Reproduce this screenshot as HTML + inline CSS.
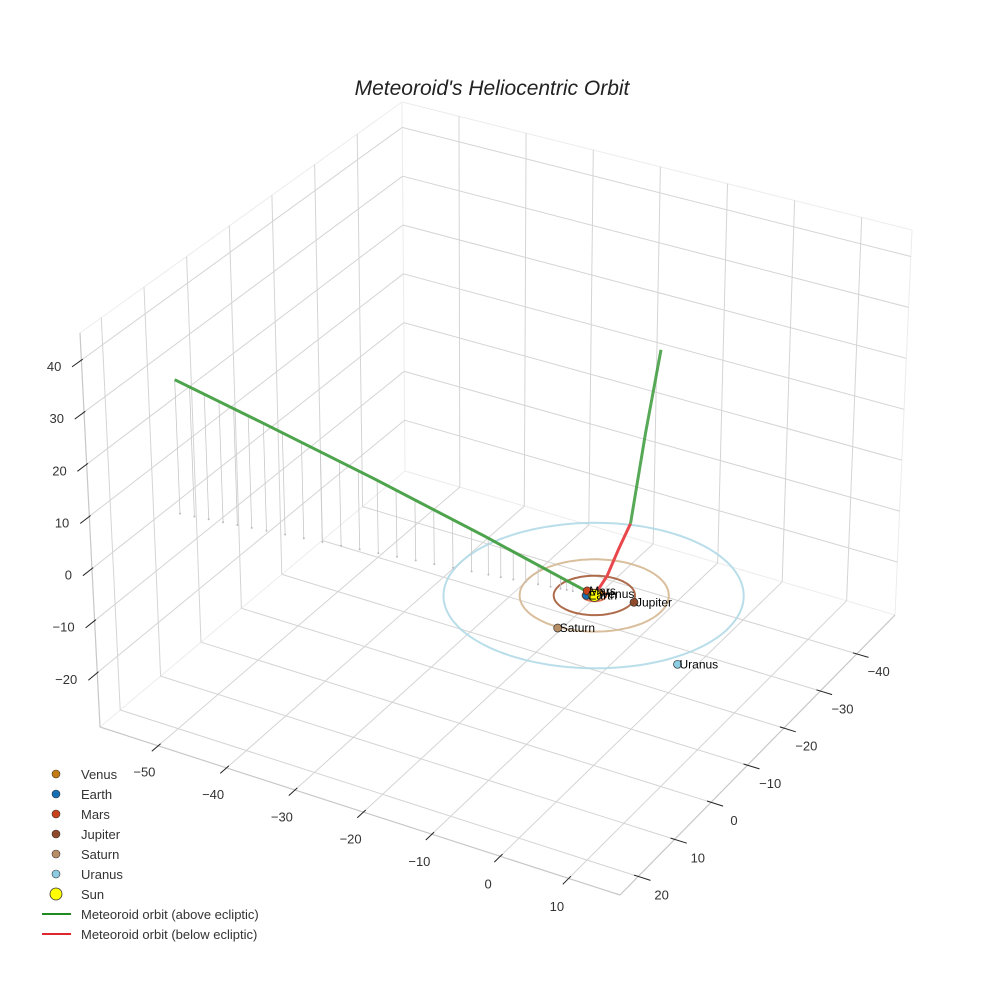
<!DOCTYPE html>
<html><head><meta charset="utf-8">
<style>
html,body{margin:0;padding:0;background:#fff;}
svg{display:block;font-family:"Liberation Sans",sans-serif;}
</style></head>
<body>
<svg id="chart" width="984" height="984" viewBox="0 0 984 984" xmlns="http://www.w3.org/2000/svg">
<rect x="0" y="0" width="984" height="984" fill="#fff"/>
<text x="492" y="95" text-anchor="middle" font-size="21" font-style="italic" fill="#222">Meteoroid's Heliocentric Orbit</text>
<g id="grid"></g>
<g id="ticks"></g>
<g id="marks"></g>
<g id="legend">
  <circle cx="56" cy="774" r="4" fill="#c47a14" stroke="#333" stroke-width="0.6"/>
  <text x="81" y="779" font-size="13" fill="#333">Venus</text>
  <circle cx="56" cy="794" r="4" fill="#1570b3" stroke="#333" stroke-width="0.6"/>
  <text x="81" y="799" font-size="13" fill="#333">Earth</text>
  <circle cx="56" cy="814" r="4" fill="#c8431c" stroke="#333" stroke-width="0.6"/>
  <text x="81" y="819" font-size="13" fill="#333">Mars</text>
  <circle cx="56" cy="834" r="4" fill="#8e4a2a" stroke="#333" stroke-width="0.6"/>
  <text x="81" y="839" font-size="13" fill="#333">Jupiter</text>
  <circle cx="56" cy="854" r="4" fill="#b88e66" stroke="#333" stroke-width="0.6"/>
  <text x="81" y="859" font-size="13" fill="#333">Saturn</text>
  <circle cx="56" cy="874" r="4" fill="#8ccbe0" stroke="#333" stroke-width="0.6"/>
  <text x="81" y="879" font-size="13" fill="#333">Uranus</text>
  <circle cx="56" cy="894" r="6" fill="#ffff00" stroke="#333" stroke-width="0.8"/>
  <text x="81" y="899" font-size="13" fill="#333">Sun</text>
  <line x1="42" y1="914" x2="71" y2="914" stroke="#1f8a1f" stroke-width="2"/>
  <text x="81" y="919" font-size="13" fill="#333">Meteoroid orbit (above ecliptic)</text>
  <line x1="42" y1="934" x2="71" y2="934" stroke="#e0262c" stroke-width="2"/>
  <text x="81" y="939" font-size="13" fill="#333">Meteoroid orbit (below ecliptic)</text>
</g>
</svg>
<script>
// ---- data ----
var xTicks = [-50, -40, -30, -20, -10, 0, 10];
var yTicks = [-40, -30, -20, -10, 0, 10, 20];
var zTicks = [-20, -10, 0, 10, 20, 30, 40];
var planetNames = ["Venus", "Earth", "Mars", "Jupiter", "Saturn", "Uranus"];
var planetX = [0.3, -0.9, -1.4, 5.3, 0.1, 18.0];
var planetY = [-0.65, 0.5, -0.6, -0.9, 9.8, 10.7];
var planetZ = [0, 0, 0, 0, 0, 0];
var orbitRadii = [0.72, 1.0, 1.52, 5.2, 9.54, 19.2];
var aboveX = [-56.5, -45, -30, -15, -5, 0];
var aboveY = [7, 5.6, 3.8, 1.9, 0.6, 0];
var aboveZ = [26, 20.6, 13.8, 6.9, 2.2, 0];
var belowX = [0, -1.8, -3.8, -5.3];
var belowY = [0, -6.5, -13, -18.8];
var belowZ = [0, -1, -0.8, 0];
var above2X = [-5.3, -5.9, -6.3];
var above2Y = [-18.8, -23.5, -27.9];
var above2Z = [0, 14, 27];

// ---- projection (axis functions) ----
var xmin=-58.5, xmax=17.5, ymin=-50.5, ymax=25, zmin=-30.4, zmax=45.2;
var C = {
  b:{B:[405,471],L:[100,727],R:[895,615],F:[620,895]},
  t:{B:[402,102],L:[80,333],R:[912,230],F:[622,437]}
};
function bil(f,u,v){
  var bx=f.B[0]+u*(f.R[0]-f.B[0]), by=f.B[1]+u*(f.R[1]-f.B[1]);
  var fx=f.L[0]+u*(f.F[0]-f.L[0]), fy=f.L[1]+u*(f.F[1]-f.L[1]);
  return [bx+v*(fx-bx), by+v*(fy-by)];
}
function P(x,y,z){
  var u=(x-xmin)/(xmax-xmin), v=(y-ymin)/(ymax-ymin), w=(z-zmin)/(zmax-zmin);
  var a=bil(C.b,u,v), b=bil(C.t,u,v);
  return [a[0]+w*(b[0]-a[0]), a[1]+w*(b[1]-a[1])];
}
var NS="http://www.w3.org/2000/svg";
function mk(tag,parent,attrs){var e=document.createElementNS(NS,tag);for(var k in attrs)e.setAttribute(k,attrs[k]);parent.appendChild(e);return e;}
function seg(parent,p,q,stroke,sw){return mk("line",parent,{x1:p[0].toFixed(1),y1:p[1].toFixed(1),x2:q[0].toFixed(1),y2:q[1].toFixed(1),stroke:stroke,"stroke-width":sw});}
function poly(parent,xs,ys,zs,stroke,sw){
  var pts=[];for(var i=0;i<xs.length;i++){var p=P(xs[i],ys[i],zs[i]);pts.push(p[0].toFixed(1)+","+p[1].toFixed(1));}
  return mk("polyline",parent,{points:pts.join(" "),fill:"none",stroke:stroke,"stroke-width":sw,"stroke-linejoin":"round"});
}
var grid=document.getElementById("grid"), ticks=document.getElementById("ticks"), marks=document.getElementById("marks");
var GC="#d4d4d4";
var el;
[[P(xmin,ymin,zmin),P(xmin,ymax,zmin)],[P(xmin,ymin,zmin),P(xmax,ymin,zmin)],[P(xmin,ymin,zmin),P(xmin,ymin,zmax)],
 [P(xmin,ymax,zmin),P(xmin,ymax,zmax)],[P(xmax,ymin,zmin),P(xmax,ymin,zmax)],
 [P(xmin,ymax,zmax),P(xmin,ymin,zmax)],[P(xmin,ymin,zmax),P(xmax,ymin,zmax)]].forEach(function(s){
  el=seg(grid,s[0],s[1],"#ececec",1);
  
  
});
xTicks.forEach(function(x){
  el=seg(grid,P(x,ymin,zmin),P(x,ymax,zmin),GC,1);
  
  
  el=seg(grid,P(x,ymin,zmin),P(x,ymin,zmax),GC,1);
  
  
});
yTicks.forEach(function(y){
  el=seg(grid,P(xmin,y,zmin),P(xmax,y,zmin),GC,1);
  
  
  el=seg(grid,P(xmin,y,zmin),P(xmin,y,zmax),GC,1);
  
  
});
zTicks.forEach(function(z){
  el=seg(grid,P(xmin,ymin,z),P(xmin,ymax,z),GC,1);
  
  
  el=seg(grid,P(xmin,ymin,z),P(xmax,ymin,z),GC,1);
  
  
});
el=seg(ticks,P(xmin,ymax,zmin),P(xmax,ymax,zmin),"#c8c8c8",1.2);


el=seg(ticks,P(xmax,ymin,zmin),P(xmax,ymax,zmin),"#c8c8c8",1.2);


el=seg(ticks,P(xmin,ymax,zmin),P(xmin,ymax,zmax),"#c8c8c8",1.2);


function lab(t){return (t<0?"\u2212"+(-t):""+t);}
xTicks.forEach(function(x){
  el=seg(ticks,P(x,ymax-0.6,zmin),P(x,ymax+1.6,zmin),"#222",1);
  
  
  var p=P(x+1.6,ymax+6.2,zmin);
  el=mk("text",ticks,{x:p[0].toFixed(1),y:(p[1]+6).toFixed(1),"text-anchor":"middle","font-size":"13",fill:"#333"});
  el.textContent=lab(x);
  
  
});
yTicks.forEach(function(y){
  el=seg(ticks,P(xmax-0.6,y,zmin),P(xmax+1.8,y,zmin),"#222",1);
  
  
  var p=P(xmax+4.6,y+2.2,zmin);
  el=mk("text",ticks,{x:p[0].toFixed(1),y:(p[1]+5).toFixed(1),"text-anchor":"middle","font-size":"13",fill:"#333"});
  el.textContent=lab(y);
  
  
});
zTicks.forEach(function(z){
  el=seg(ticks,P(xmin,ymax-0.3,z),P(xmin,ymax+2.2,z),"#222",1);
  
  
  var p=P(xmin,ymax,z);
  el=mk("text",ticks,{x:(p[0]-20).toFixed(1),y:(p[1]+11).toFixed(1),"text-anchor":"end","font-size":"13",fill:"#333"});
  el.textContent=lab(z);
  
  
});
var orbitColors=["#d9a066","#6fa8d8","#d9603a","#a0522d","#d2b48c","#add8e6"];
orbitRadii.forEach(function(r,i){
  var xs=[],ys=[],zs=[];
  for(var k=0;k<=120;k++){var a=k/120*2*Math.PI;xs.push(r*Math.cos(a));ys.push(r*Math.sin(a));zs.push(0);}
  el=poly(marks,xs,ys,zs,orbitColors[i],2);
  el.setAttribute("stroke-opacity","0.85");
  
  
});
var dropFrac=[];for(var d=0;d<27;d++)dropFrac.push(d/29.5);
function onPath(xs,ys,zs,f){
  var n=xs.length-1, s=f*n, i=Math.min(Math.floor(s),n-1), t=s-i;
  return [xs[i]+t*(xs[i+1]-xs[i]), ys[i]+t*(ys[i+1]-ys[i]), zs[i]+t*(zs[i+1]-zs[i])];
}
dropFrac.forEach(function(f){
  var q=onPath(aboveX,aboveY,aboveZ,f);
  var top=P(q[0],q[1],q[2]), bot=P(q[0],q[1],0);
  el=seg(marks,top,bot,"#c8c8c8",0.8);
  
  
  el=mk("circle",marks,{cx:bot[0].toFixed(1),cy:bot[1].toFixed(1),r:"1",fill:"#bbb"});
  
  
});
el=poly(marks,aboveX,aboveY,aboveZ,"#3a9a3a",3);
el.setAttribute("stroke-opacity","0.9");


el=poly(marks,belowX,belowY,belowZ,"#e8484c",3);


el=poly(marks,above2X,above2Y,above2Z,"#3a9a3a",3);
el.setAttribute("stroke-opacity","0.85");


var planetColors=["#c47a14","#1570b3","#c8431c","#8e4a2a","#b88e66","#8ccbe0"];
planetNames.forEach(function(n,i){
  var p=P(planetX[i],planetY[i],planetZ[i]);
  el=mk("circle",marks,{cx:p[0].toFixed(1),cy:p[1].toFixed(1),r:"4",fill:planetColors[i],stroke:"#333","stroke-width":"0.7"});
  
  
});
var sp=P(0,0,0);
el=mk("circle",marks,{cx:sp[0].toFixed(1),cy:sp[1].toFixed(1),r:"6",fill:"#ffff00",stroke:"#333","stroke-width":"0.8"});


planetNames.forEach(function(n,i){
  var p=P(planetX[i],planetY[i],planetZ[i]);
  el=mk("text",marks,{x:(p[0]+2).toFixed(1),y:(p[1]+4).toFixed(1),"font-size":"12",fill:"#000"});
  el.textContent=n;
  
  
});
</script>
</body></html>
